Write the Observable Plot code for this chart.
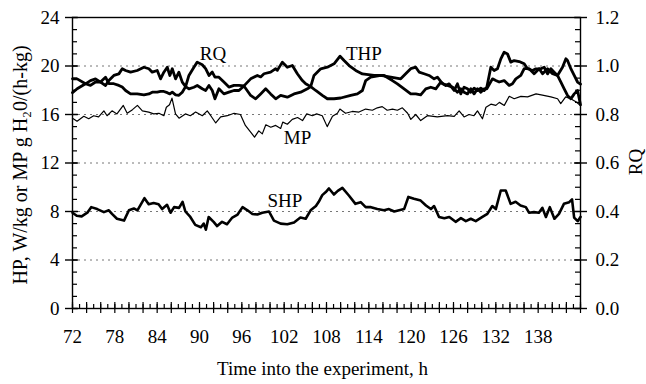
<!DOCTYPE html>
<html><head><meta charset="utf-8">
<script src="https://cdn.jsdelivr.net/npm/d3@7"></script>
<script src="https://cdn.jsdelivr.net/npm/@observablehq/plot@0.6"></script>
<style>body{margin:0;background:#fff;} svg{display:block}</style>
</head><body><div id="chart"></div>
<script>
// ---- data ----
const shpHours = [72.0,72.6,73.3,74.1,74.65,75.5,76.45,77.15,77.6,78.3,79.3,80.0,80.7,81.2,81.65,82.2,82.8,83.5,84.2,84.7,85.4,85.9,86.4,87.1,87.6,88.0,88.7,89.4,90.2,90.6,90.9,91.3,92.0,92.5,93.2,93.9,94.65,95.4,96.1,96.8,97.5,98.2,98.9,99.85,100.55,101.5,102.45,103.4,104.3,105.05,105.75,106.5,106.9,107.4,107.9,108.35,109.05,109.6,110.25,111.2,112.1,112.85,113.55,114.3,115.2,116.15,116.85,117.6,118.3,119.0,119.6,120.4,121.35,122.1,122.8,123.25,123.95,124.7,125.4,126.3,127.05,127.75,128.45,129.15,130.1,130.8,131.5,132.0,132.7,133.4,134.1,134.8,135.5,136.25,136.7,137.4,138.1,138.6,139.1,139.65,140.3,140.95,141.65,142.4,142.8,143.1,143.6,144.0];
const shpValues = [7.9,7.65,7.6,7.9,8.36,8.2,7.95,8.1,7.8,7.4,7.25,8.1,8.25,8.1,8.55,9.1,8.6,8.7,8.6,8.2,8.55,7.9,8.36,8.3,8.8,8.0,7.55,6.9,6.7,7.0,6.5,7.55,7.15,6.8,7.15,6.95,7.5,7.75,8.36,8.1,7.8,7.75,7.9,8.0,7.25,7.0,6.95,7.1,7.5,7.4,8.1,8.45,8.8,9.35,9.6,9.9,9.4,9.7,9.95,9.3,8.63,8.77,8.36,8.36,8.2,8.1,8.2,8.0,8.1,8.2,9.2,9.05,8.9,8.5,8.2,8.45,7.55,7.45,7.55,7.15,7.45,7.2,7.4,7.2,7.55,7.8,8.45,8.2,9.73,9.73,8.63,8.8,8.5,8.36,7.9,7.95,7.9,8.3,7.55,8.36,7.4,7.8,8.63,8.77,9.0,7.5,7.2,7.55];

const mpHours = [72.0,72.65,73.6,74.3,75.0,75.7,76.45,76.9,77.6,78.3,79.2,79.75,80.5,81.2,81.9,82.8,83.5,84.25,84.95,85.3,85.75,86.1,86.6,87.1,88.0,88.7,89.45,90.4,91.1,91.6,92.3,93.0,93.95,94.9,95.8,96.5,97.25,97.8,98.4,98.9,99.4,100.1,100.8,101.5,101.8,102.45,103.15,103.9,104.6,105.2,106.0,106.6,107.4,108.1,108.85,109.55,109.9,110.7,111.65,112.6,113.55,114.5,115.2,115.9,116.6,117.35,118.05,118.75,119.5,119.95,120.65,121.35,122.3,123.7,125.15,126.1,126.8,127.5,128.2,128.9,129.4,130.1,130.6,131.3,132.0,132.5,133.2,133.9,134.6,135.55,136.5,137.7,138.6,139.8,140.75,141.2,141.9,142.6,143.35,144.0];
const mpValues = [15.7,15.45,15.85,15.65,15.9,15.8,16.3,15.9,16.3,16.05,16.75,16.1,16.4,16.75,16.3,16.2,16.05,16.1,15.9,16.6,16.8,17.35,16.05,15.7,16.05,15.9,16.2,15.9,16.3,15.9,15.3,15.8,15.9,16.1,16.0,15.1,14.55,14.13,14.65,14.4,15.15,14.95,15.1,14.85,15.37,15.2,15.6,15.75,15.5,16.05,15.9,16.05,15.9,15.0,15.85,16.1,16.45,16.1,16.25,16.2,16.45,16.35,16.55,16.65,16.35,16.45,16.35,16.55,16.1,15.6,16.0,15.5,15.9,15.8,15.9,15.85,16.3,15.8,16.0,15.9,16.3,15.65,16.6,16.85,16.75,17.0,16.75,17.5,17.3,17.5,17.45,17.7,17.6,17.45,17.3,16.9,17.45,17.3,17.05,16.75];

const thpHours = [72.0,72.66,73.84,74.55,75.26,75.97,76.68,77.15,77.86,78.57,79.05,79.52,80.23,81.17,82.12,82.83,83.3,84.01,84.48,84.95,85.43,85.8,86.14,86.61,87.08,87.56,88.03,88.5,89.21,89.68,90.39,90.87,91.34,91.81,92.19,92.75,93.46,94.17,94.88,95.59,96.3,97.25,97.96,98.67,99.38,100.08,100.8,101.5,102.45,103.4,104.34,105.29,105.76,106.23,107.18,108.12,109.07,109.92,110.49,111.2,112.14,113.09,114.74,116.16,117.34,118.05,119.0,119.94,120.65,121.35,122.07,122.78,123.49,124.2,124.9,125.38,126.09,126.56,127.03,127.5,127.98,128.45,128.92,129.4,129.87,130.34,130.72,131.29,131.76,132.23,132.71,133.18,133.65,134.12,134.6,135.31,136.02,136.49,137.2,137.67,138.38,138.85,139.33,139.8,140.27,140.74,141.22,141.69,142.16,142.63,143.11,143.58,144.0];
const thpValues = [17.8,18.12,18.53,18.8,18.94,18.67,18.39,18.8,19.22,19.35,19.77,19.63,19.49,19.63,19.9,19.77,19.49,19.63,18.94,19.49,19.9,19.22,19.77,18.94,19.49,18.67,18.3,18.12,18.25,18.39,18.12,17.98,18.39,17.98,17.29,18.12,17.7,17.84,17.98,17.98,18.35,17.57,17.29,17.7,18.12,17.7,17.29,17.57,17.43,17.7,17.84,18.12,18.3,19.22,19.77,19.9,20.18,20.81,20.45,20.04,19.63,19.35,19.22,19.22,18.8,18.53,18.12,17.7,17.7,17.62,18.12,18.25,18.12,18.67,18.39,18.53,17.98,18.53,17.7,18.25,18.12,17.84,18.17,17.98,18.17,17.98,18.25,19.9,19.63,19.77,20.59,21.14,21.0,20.32,20.45,20.37,20.18,19.77,19.63,19.77,19.77,19.9,19.35,19.77,19.49,19.22,18.67,18.12,17.57,17.29,17.7,17.98,16.8];

const rqHours = [72.0,72.66,73.84,74.55,75.26,75.97,76.68,77.15,77.86,78.57,79.05,79.52,80.23,81.17,82.12,82.83,83.3,84.01,84.48,84.95,85.43,85.8,86.14,86.61,87.08,87.56,88.03,88.5,89.21,89.68,90.39,90.87,91.34,91.81,92.19,92.75,93.46,94.17,94.88,95.59,96.3,97.25,98.2,98.67,99.14,100.08,100.8,101.03,101.74,102.45,103.16,103.87,104.58,105.05,105.76,106.47,107.41,108.12,109.07,110.01,111.43,112.38,113.09,113.56,114.27,115.69,117.11,118.52,119.47,119.94,120.65,121.12,121.83,122.54,123.25,123.72,124.43,125.14,125.85,126.56,127.03,127.5,127.98,128.45,128.92,129.4,129.87,130.34,130.72,131.52,132.0,132.47,133.18,133.89,134.36,134.83,135.54,136.02,136.73,137.43,138.14,138.62,139.33,140.04,140.74,141.45,141.93,142.16,142.63,143.11,143.58,144.0];
const rqValues = [0.947,0.947,0.927,0.920,0.934,0.934,0.954,0.927,0.927,0.920,0.913,0.899,0.885,0.885,0.881,0.885,0.892,0.892,0.895,0.895,0.890,0.885,0.892,0.881,0.879,0.892,0.915,0.961,0.995,1.016,1.005,0.989,0.961,0.975,0.954,0.954,0.934,0.913,0.920,0.920,0.918,0.947,0.961,0.955,0.968,0.975,0.989,0.982,1.016,0.995,1.002,0.968,0.940,0.927,0.915,0.899,0.879,0.865,0.865,0.868,0.879,0.885,0.899,0.940,0.954,0.961,0.954,0.947,0.975,0.989,0.995,0.975,0.968,0.961,0.947,0.954,0.927,0.920,0.913,0.892,0.906,0.892,0.885,0.906,0.885,0.906,0.892,0.906,0.906,0.947,0.940,0.934,0.940,0.920,0.927,0.947,0.961,0.989,0.989,0.968,0.989,0.968,0.989,0.968,0.961,0.995,1.030,1.023,0.989,0.961,0.934,0.925];

const xTickLabels = [72, 78, 84, 90, 96, 102, 108, 114, 120, 126, 132, 138];
const yTickLabels = [0, 4, 8, 12, 16, 20, 24];
const rqTickLabels = ["0.0", "0.2", "0.4", "0.6", "0.8", "1.0", "1.2"];
const gridLevels = [4, 8, 12, 16, 20];
const seriesNames = ["RQ", "THP", "MP", "SHP"];
const seriesLabelHours = [91.9, 113.3, 103.9, 102.1];
const seriesLabelValues = [21.0, 21.0, 14.1, 8.9];
const xTitle = "Time into the experiment, h";
const yTitle = "HP, W/kg or MP g H\u20820/(h-kg)";
const y2Title = "RQ";
const rqFactor = 20; // RQ 1.2 ↔ 24 on the left axis

// ---- build ----
const zip = (hs, vs) => hs.map((h, i) => ({h, v: vs[i]})).filter(d => d.v !== undefined);
const shp = zip(shpHours, shpValues);
const mp = zip(mpHours, mpValues);
const thp = zip(thpHours, thpValues);
const rq = zip(rqHours, rqValues);
const labels = seriesNames.map((n, i) => ({n, h: seriesLabelHours[i], v: seriesLabelValues[i]}));

const W = 646, H = 384, mL = 72, mR = 66, mT = 17, mB = 76;
const iW = W - mL - mR, iH = H - mT - mB;
const font = "'Liberation Serif', 'Times New Roman', serif";
const yMinor = d3.range(0, 25, 1);
const xMinor = d3.range(72, 145, 1);
const xMid = d3.range(72, 145, 2);

const chart = Plot.plot({
  width: W, height: H,
  marginLeft: mL, marginRight: mR, marginTop: mT, marginBottom: mB,
  x: {domain: [72, 144]},
  y: {domain: [0, 24]},
  style: {fontFamily: font, fontSize: "19px", background: "white", color: "black"},
  marks: [
    Plot.ruleY(gridLevels, {stroke: "#777", strokeWidth: 1, strokeDasharray: "2,4"}),
    Plot.ruleY(yMinor, {insetRight: iW - 5, stroke: "black", strokeWidth: 1.2}),
    Plot.ruleY(yMinor, {insetLeft: iW - 5, stroke: "black", strokeWidth: 1.2}),
    Plot.ruleY(yTickLabels, {insetLeft: -7, insetRight: iW - 6, stroke: "black", strokeWidth: 1.4}),
    Plot.ruleY(yTickLabels, {insetLeft: iW - 6, insetRight: -7, stroke: "black", strokeWidth: 1.4}),
    Plot.ruleX(xMinor, {insetTop: iH - 4, stroke: "black", strokeWidth: 1.2}),
    Plot.ruleX(xMid, {insetTop: iH - 6, insetBottom: -5, stroke: "black", strokeWidth: 1.2}),
    Plot.frame({stroke: "black", strokeWidth: 1.4}),
    Plot.line(mp, {x: "h", y: "v", stroke: "black", strokeWidth: 1.2, strokeLinejoin: "round"}),
    Plot.line(shp, {x: "h", y: "v", stroke: "black", strokeWidth: 2.6, strokeLinejoin: "round"}),
    Plot.line(thp, {x: "h", y: "v", stroke: "black", strokeWidth: 2.8, strokeLinejoin: "round"}),
    Plot.line(rq, {x: "h", y: d => d.v * rqFactor, stroke: "black", strokeWidth: 2.8, strokeLinejoin: "round"}),
    Plot.axisY({anchor: "left", ticks: yTickLabels, tickSize: 0, tickPadding: 13, label: null, fontSize: 19}),
    Plot.axisY({anchor: "right", ticks: yTickLabels, tickSize: 0, tickPadding: 15, label: null, fontSize: 19,
      tickFormat: d => rqTickLabels[yTickLabels.indexOf(d)]}),
    Plot.axisX({ticks: xTickLabels, tickSize: 0, tickPadding: 21, label: null, fontSize: 19}),
    Plot.text(labels, {x: "h", y: "v", text: "n", fontSize: 19, fill: "black", textAnchor: "middle", lineAnchor: "middle"}),
    Plot.text([xTitle], {frameAnchor: "bottom", dx: -4, dy: 60, fontSize: 19, textAnchor: "middle", lineAnchor: "middle", fill: "black"}),
    Plot.text([yTitle], {frameAnchor: "left", dx: -52, dy: 2, rotate: -90, fontSize: 20, textAnchor: "middle", lineAnchor: "middle", fill: "black"}),
    Plot.text([y2Title], {frameAnchor: "right", dx: 55, dy: -1, rotate: -90, fontSize: 19, textAnchor: "middle", lineAnchor: "middle", fill: "black"})
  ]
});
document.getElementById("chart").appendChild(chart);
</script>
</body></html>
